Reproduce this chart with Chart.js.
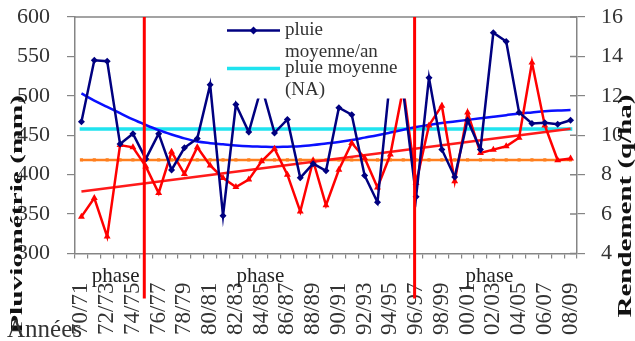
<!DOCTYPE html>
<html>
<head>
<meta charset="utf-8">
<script src="https://cdn.jsdelivr.net/npm/chart.js@4.4.1/dist/chart.umd.min.js"></script>
<style>
  html, body { margin: 0; padding: 0; background: #ffffff; }
  #c { display: block; }
</style>
</head>
<body>
<canvas id="c" width="635" height="341" style="width:635px;height:341px"></canvas>
<script>
// Campagnes agricoles
const annees = ['70/71','71/72','72/73','73/74','74/75','75/76','76/77','77/78','78/79','79/80',
  '80/81','81/82','82/83','83/84','84/85','85/86','86/87','87/88','88/89','89/90',
  '90/91','91/92','92/93','93/94','94/95','95/96','96/97','97/98','98/99','99/00',
  '00/01','01/02','02/03','03/04','04/05','05/06','06/07','07/08','08/09'];

// Pluviométrie annuelle (mm)
const pluie = [467, 545, 544, 439, 452, 420, 452, 406, 434, 446,
  514, 348, 489, 454, 512, 453, 470, 396, 414, 405,
  485, 476, 399, 365, 525, 505, 372, 523, 432, 397,
  469, 432, 580, 569, 479, 465, 466, 464, 469];

// Tendance (polynomiale) de la pluie (mm)
const tendancePluie = [503, 494, 486, 478, 470, 463, 456.5, 451, 446, 442,
  440, 438.5, 437, 436, 435.5, 435, 435.5, 436, 437.5, 439.5,
  441.5, 444, 447, 450, 453.5, 457, 460.5, 463, 465.5, 467.5,
  469.5, 471.5, 473.5, 475.5, 477.5, 479, 480.5, 481.5, 482];

// Pluie moyenne (mm)
const pluieMoyenne = 458;

// Rendement (q/ha)
const rendement = [5.87, 6.81, 4.86, 9.5, 9.39, 8.42, 7.07, 9.16, 8.04, 9.39,
  8.47, 7.83, 7.37, 7.75, 8.68, 9.32, 8.0, 6.13, 8.71, 6.45,
  8.25, 9.61, 8.85, 7.35, 9.02, 12.4, 7.58, 10.5, 11.5, 7.66,
  11.15, 9.1, 9.27, 9.44, 9.87, 13.69, 10.5, 8.73, 8.82];

// Rendement moyen (q/ha) et tendance linéaire (début, fin)
const rendementMoyen = 8.75;
const tendanceRendement = [7.15, 10.33];

// Limites des phases
const limitesPhases = ['75/76', '96/97'];

// Graduations
const ticksPluie = { min: 300, max: 600, pas: 50 };
const ticksRendement = { min: 4, max: 16, pas: 2 };

const SERIF = "'Liberation Serif', 'Times New Roman', serif";
const GRIS_AXE = '#858585';
const TEXTE = '#333333';

function texteEtire(ctx, texte, cx, cy, police, longueur, angle, couleur) {
  ctx.save();
  ctx.font = police;
  const w = ctx.measureText(texte).width;
  ctx.translate(cx, cy);
  ctx.rotate(angle);
  ctx.scale(longueur / w, 1);
  ctx.fillStyle = couleur;
  ctx.textAlign = 'center';
  ctx.textBaseline = 'middle';
  ctx.fillText(texte, 0, 0);
  ctx.restore();
}

function sansDebord(s) {
  s.paddingTop = 0;
  s.paddingBottom = 0;
  s.paddingLeft = 0;
  s.paddingRight = 0;
}

const decor = {
  id: 'decor',
  afterDatasetsDraw(chart) {
    const ctx = chart.ctx;
    const area = chart.chartArea;
    // cadre supérieur
    ctx.save();
    ctx.strokeStyle = GRIS_AXE;
    ctx.lineWidth = 1.5;
    ctx.beginPath();
    ctx.moveTo(area.left, area.top);
    ctx.lineTo(area.right, area.top);
    ctx.stroke();
    // graduations intérieures de l'axe droit
    const y1 = chart.scales.y1;
    ctx.beginPath();
    y1.ticks.forEach(t => {
      const py = y1.getPixelForValue(t.value);
      ctx.moveTo(area.right - 7, py);
      ctx.lineTo(area.right, py);
    });
    ctx.stroke();
    ctx.restore();

    // légende
    ctx.save();
    ctx.fillStyle = '#ffffff';
    ctx.fillRect(222, 18.5, 188, 80);
    ctx.lineCap = 'butt';
    ctx.strokeStyle = '#000080';
    ctx.lineWidth = 2.5;
    ctx.beginPath(); ctx.moveTo(227, 30.5); ctx.lineTo(280, 30.5); ctx.stroke();
    ctx.fillStyle = '#000080';
    ctx.beginPath();
    ctx.moveTo(253.5, 26.5); ctx.lineTo(257.5, 30.5); ctx.lineTo(253.5, 34.5); ctx.lineTo(249.5, 30.5);
    ctx.closePath(); ctx.fill();
    ctx.strokeStyle = '#1FE3EF';
    ctx.lineWidth = 3.5;
    ctx.beginPath(); ctx.moveTo(227, 68.5); ctx.lineTo(280, 68.5); ctx.stroke();
    ctx.fillStyle = TEXTE;
    ctx.font = '19px ' + SERIF;
    ctx.textAlign = 'left';
    ctx.textBaseline = 'middle';
    ctx.fillText('pluie', 285, 30);
    ctx.fillText('moyenne/an', 285, 52);
    ctx.fillText('pluie moyenne', 285, 68);
    ctx.fillText('(NA)', 285, 90);
    ctx.restore();
  },
  afterDraw(chart) {
    const ctx = chart.ctx;
    const area = chart.chartArea;
    const x = chart.scales.x;

    // limites des phases
    ctx.save();
    ctx.strokeStyle = '#FF0000';
    ctx.lineWidth = 3;
    limitesPhases.forEach(lbl => {
      const px = x.getPixelForValue(annees.indexOf(lbl)) - 1.5;
      ctx.beginPath();
      ctx.moveTo(px, area.top);
      ctx.lineTo(px, area.bottom + 45);
      ctx.stroke();
    });
    ctx.restore();

    // étiquettes des phases
    ctx.save();
    ctx.fillStyle = '#222222';
    ctx.font = '21px ' + SERIF;
    ctx.textAlign = 'center';
    ctx.textBaseline = 'alphabetic';
    [2.65, 13.9, 31.7].forEach(v => {
      ctx.fillText('phase', x.getPixelForValue(v), area.bottom + 28);
    });
    ctx.restore();

    // titres des axes
    texteEtire(ctx, 'Pluviométrie (mm)', 18, 214, 'bold 17px ' + SERIF, 238, -Math.PI / 2, '#111111');
    texteEtire(ctx, 'Rendement (q/ha)', 626, 206, 'bold 18px ' + SERIF, 223, -Math.PI / 2, '#111111');

    ctx.save();
    ctx.fillStyle = TEXTE;
    ctx.font = '25px ' + SERIF;
    ctx.textAlign = 'left';
    ctx.textBaseline = 'alphabetic';
    ctx.fillText('Années', 7, 337);
    ctx.restore();
  }
};

new Chart(document.getElementById('c'), {
  type: 'line',
  data: {
    labels: annees,
    datasets: [
      {
        label: 'pluie',
        data: pluie,
        yAxisID: 'y',
        borderColor: '#000080',
        backgroundColor: '#000080',
        borderWidth: 2.5,
        pointStyle: 'rectRot',
        pointRadius: 3.5,
        pointBorderWidth: 0,
        tension: 0
      },
      {
        label: 'rendement',
        data: rendement,
        yAxisID: 'y1',
        borderColor: '#FF0000',
        backgroundColor: '#FF0000',
        borderWidth: 2.5,
        pointStyle: 'triangle',
        pointRadius: 4,
        pointBorderWidth: 0,
        tension: 0
      },
      {
        label: 'tendance pluie',
        data: tendancePluie,
        yAxisID: 'y',
        borderColor: '#0A10FF',
        borderWidth: 2.5,
        pointRadius: 0,
        cubicInterpolationMode: 'monotone'
      },
      {
        label: 'tendance rendement',
        data: [{ x: annees[0], y: tendanceRendement[0] }, { x: annees[annees.length - 1], y: tendanceRendement[1] }],
        yAxisID: 'y1',
        borderColor: '#FF1A1A',
        borderWidth: 2.5,
        pointRadius: 0
      },
      {
        label: 'pluie moyenne (NA)',
        data: annees.map(() => pluieMoyenne),
        yAxisID: 'y',
        borderColor: '#1FE3EF',
        borderWidth: 3.5,
        borderCapStyle: 'square',
        pointRadius: 0
      },
      {
        label: 'rendement moyen',
        data: annees.map(() => rendementMoyen),
        yAxisID: 'y1',
        borderColor: '#FF7F1E',
        backgroundColor: '#FF7F1E',
        borderWidth: 2.5,
        pointStyle: 'rect',
        pointRadius: 2.2,
        pointBorderWidth: 0
      }
    ]
  },
  options: {
    responsive: false,
    animation: false,
    devicePixelRatio: 1,
    layout: { padding: { top: 17, left: 0, right: 0, bottom: 0 } },
    plugins: { legend: { display: false }, tooltip: { enabled: false } },
    scales: {
      x: {
        type: 'category',
        offset: true,
        grid: { offset: true, drawOnChartArea: false, drawTicks: true, tickLength: 5, color: GRIS_AXE, lineWidth: 1.2 },
        border: { display: true, color: GRIS_AXE, width: 1.5 },
        ticks: {
          autoSkip: false,
          minRotation: 90,
          maxRotation: 90,
          padding: 24,
          color: TEXTE,
          font: { family: SERIF, size: 23 },
          callback: (v, i) => (i % 2 === 0 ? annees[i] : '')
        },
        afterFit: s => { s.height = 87.5; sansDebord(s); }
      },
      y: {
        position: 'left',
        min: ticksPluie.min,
        max: ticksPluie.max,
        grid: { drawOnChartArea: false, drawTicks: true, tickLength: 8, color: GRIS_AXE, lineWidth: 1.2 },
        border: { display: true, color: GRIS_AXE, width: 1.5 },
        ticks: { stepSize: ticksPluie.pas, padding: 17, color: TEXTE, font: { family: SERIF, size: 22 } },
        afterFit: s => { s.width = 75; sansDebord(s); }
      },
      y1: {
        position: 'right',
        min: ticksRendement.min,
        max: ticksRendement.max,
        grid: { drawOnChartArea: false, drawTicks: true, tickLength: 8, color: GRIS_AXE, lineWidth: 1.2 },
        border: { display: true, color: GRIS_AXE, width: 1.5 },
        ticks: { stepSize: ticksRendement.pas, padding: 16, color: TEXTE, font: { family: SERIF, size: 22 } },
        afterFit: s => { s.width = 58; sansDebord(s); }
      }
    }
  },
  plugins: [decor]
});
</script>
</body>
</html>
